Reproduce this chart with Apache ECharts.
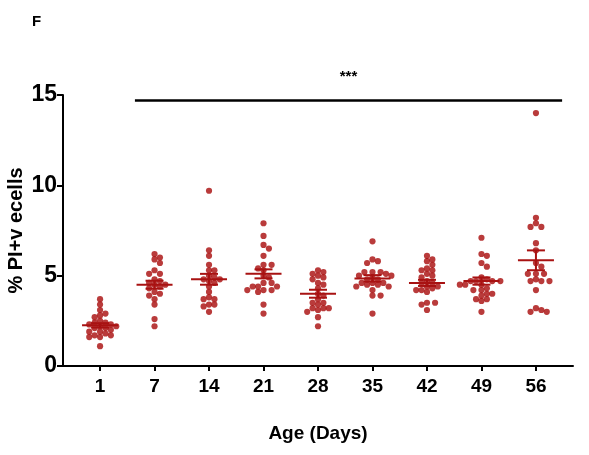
<!DOCTYPE html>
<html><head><meta charset="utf-8">
<script src="https://cdn.jsdelivr.net/npm/echarts@6/dist/echarts.min.js"></script>
<style>html,body{margin:0;padding:0;background:#fff}#c{width:589px;height:455px}</style>
</head><body><div id="c"></div>
<script>
const categories = ['1','7','14','21','28','35','42','49','56'];
const day1  = [3.7,3.4,3.1,2.9,2.8,2.7,2.5,2.4,2.4,2.3,2.3,2.2,2.2,2.1,2.1,2.0,1.9,1.9,1.8,1.7,1.7,1.6,1.6,1.1];
const day7  = [6.2,6.0,5.9,5.7,5.3,5.1,5.1,4.8,4.7,4.6,4.5,4.5,4.4,4.3,4.1,4.0,3.9,3.7,3.4,2.6,2.2];
const day14 = [9.7,6.4,6.1,5.6,5.3,5.3,5.0,4.9,4.8,4.8,4.7,4.6,4.4,4.1,3.8,3.7,3.7,3.4,3.4,3.3,3.0];
const day21 = [7.9,7.2,6.7,6.5,6.1,5.6,5.6,5.4,5.3,5.0,4.9,4.6,4.6,4.4,4.4,4.4,4.2,4.2,4.2,4.1,3.4,2.9];
const day28 = [5.3,5.2,5.1,5.0,4.9,4.8,4.6,4.5,4.3,4.0,3.9,3.7,3.5,3.5,3.4,3.2,3.2,3.2,3.1,3.0,2.7,2.2];
const day35 = [6.9,5.9,5.8,5.7,5.2,5.2,5.2,5.1,5.0,5.0,4.9,4.8,4.8,4.6,4.6,4.6,4.5,4.5,4.4,4.4,4.2,3.9,3.9,2.9];
const day42 = [6.1,5.9,5.8,5.6,5.4,5.3,5.3,5.1,5.0,4.9,4.7,4.6,4.6,4.4,4.4,4.3,4.2,4.2,4.1,3.5,3.5,3.4,3.1];
const day49 = [7.1,6.2,6.1,5.7,5.5,4.9,4.8,4.7,4.7,4.7,4.7,4.5,4.5,4.5,4.3,4.2,4.2,4.0,4.0,3.9,3.7,3.7,3.6,3.0];
const day56 = [14.0,8.2,7.9,7.7,7.7,6.8,6.4,5.7,5.5,5.1,5.1,5.1,4.8,4.7,4.7,4.7,4.2,3.2,3.1,3.0,3.0];
const groups = [day1,day7,day14,day21,day28,day35,day42,day49,day56];
const means = [2.25,4.5,4.8,5.1,4.0,4.85,4.6,4.7,5.85];
const sems  = [0.12,0.22,0.3,0.25,0.22,0.18,0.17,0.2,0.55];
const yTicks = [0,5,10,15];
const sigLabel = '***';
const sigFrom = 0.64, sigTo = 8.48, sigLevel = 14.72;

const RED = '#a80a0a';
const chart = echarts.init(document.getElementById('c'), null, {renderer:'canvas'});
const font = 'Liberation Sans, Arial, sans-serif';
const tickIdx = categories.map((c,i)=>i);

const base = {
  animation:false,
  title:{text:'F', left:27, top:9, textStyle:{fontFamily:font, fontWeight:'bold', fontSize:15, color:'#000'}},
  grid:{left:63, right:16, top:95, bottom:89, outerBoundsMode:'none', containLabel:false},
  xAxis:{type:'value', min:-0.68, max:8.68,
    name:'Age (Days)', nameLocation:'middle', nameGap:58, nameMoveOverlap:false,
    nameTextStyle:{fontFamily:font, fontWeight:'bold', fontSize:19, color:'#000'},
    axisLine:{onZero:false, lineStyle:{color:'#000', width:2}},
    axisTick:{show:true, customValues:tickIdx, length:5, lineStyle:{color:'#000', width:2}},
    axisLabel:{customValues:tickIdx, formatter:v=>categories[Math.round(v)], fontFamily:font, fontWeight:'bold', fontSize:19, color:'#000', margin:11},
    splitLine:{show:false}},
  yAxis:{type:'value', min:0, max:15, interval:5,
    name:'% PI+v ecells', nameLocation:'middle', nameGap:37, nameMoveOverlap:false,
    nameTextStyle:{fontFamily:font, fontWeight:'bold', fontSize:20, color:'#000'},
    axisLine:{show:true, onZero:false, lineStyle:{color:'#000', width:2}},
    axisTick:{show:true, length:6, lineStyle:{color:'#000', width:2}},
    axisLabel:{customValues:yTicks, fontFamily:font, fontWeight:'bold', fontSize:23, color:'#000', margin:6},
    splitLine:{show:false}},
  series:[]
};
chart.setOption(base);

// beeswarm layout in pixel space
const D = 5.4;
const swarm = [];
groups.forEach((vals,gi)=>{
  const cx = chart.convertToPixel({gridIndex:0},[gi,0])[0];
  const placed = [];
  const sorted = vals.slice().sort((a,b)=>b-a);
  sorted.forEach(v=>{
    const py = chart.convertToPixel({gridIndex:0},[gi,v])[1];
    let k=0, px;
    while(true){
      const off = (k===0?0:(k%2? 1:-1)*Math.ceil(k/2)*D*0.5);
      px = cx+off;
      const hit = placed.some(p=>(p[0]-px)**2+(p[1]-py)**2 < D*D);
      if(!hit) break;
      k++;
    }
    placed.push([px,py]);
    const xv = chart.convertFromPixel({gridIndex:0},[px,py])[0];
    swarm.push([xv, v]);
  });
});

chart.setOption({
  series:[
    {type:'scatter', data:swarm, symbolSize:6.2, itemStyle:{color:RED}, z:3},
    {type:'custom', z:4, data:means.map((m,i)=>[i,m,sems[i]]),
      renderItem:(params,api)=>{
        const i=api.value(0), m=api.value(1), s=api.value(2);
        const c=api.coord([i,m]), hi=api.coord([i,m+s]), lo=api.coord([i,m-s]);
        const st={stroke:'#a81212', lineWidth:2};
        return {type:'group', children:[
          {type:'line', shape:{x1:c[0]-18,y1:c[1],x2:c[0]+18,y2:c[1]}, style:st},
          {type:'line', shape:{x1:c[0],y1:hi[1],x2:c[0],y2:lo[1]}, style:st},
          {type:'line', shape:{x1:c[0]-9,y1:hi[1],x2:c[0]+9,y2:hi[1]}, style:st},
          {type:'line', shape:{x1:c[0]-9,y1:lo[1],x2:c[0]+9,y2:lo[1]}, style:st}
        ]};
      }},
    {type:'line', data:[], silent:true,
      markLine:{symbol:'none', silent:true, lineStyle:{color:'#000', width:2.5, type:'solid'},
        label:{show:true, position:'middle', formatter:sigLabel, color:'#000', fontFamily:font, fontWeight:'bold', fontSize:15, distance:16},
        data:[[{coord:[sigFrom,sigLevel]},{coord:[sigTo,sigLevel]}]]}}
  ]
});
</script></body></html>
